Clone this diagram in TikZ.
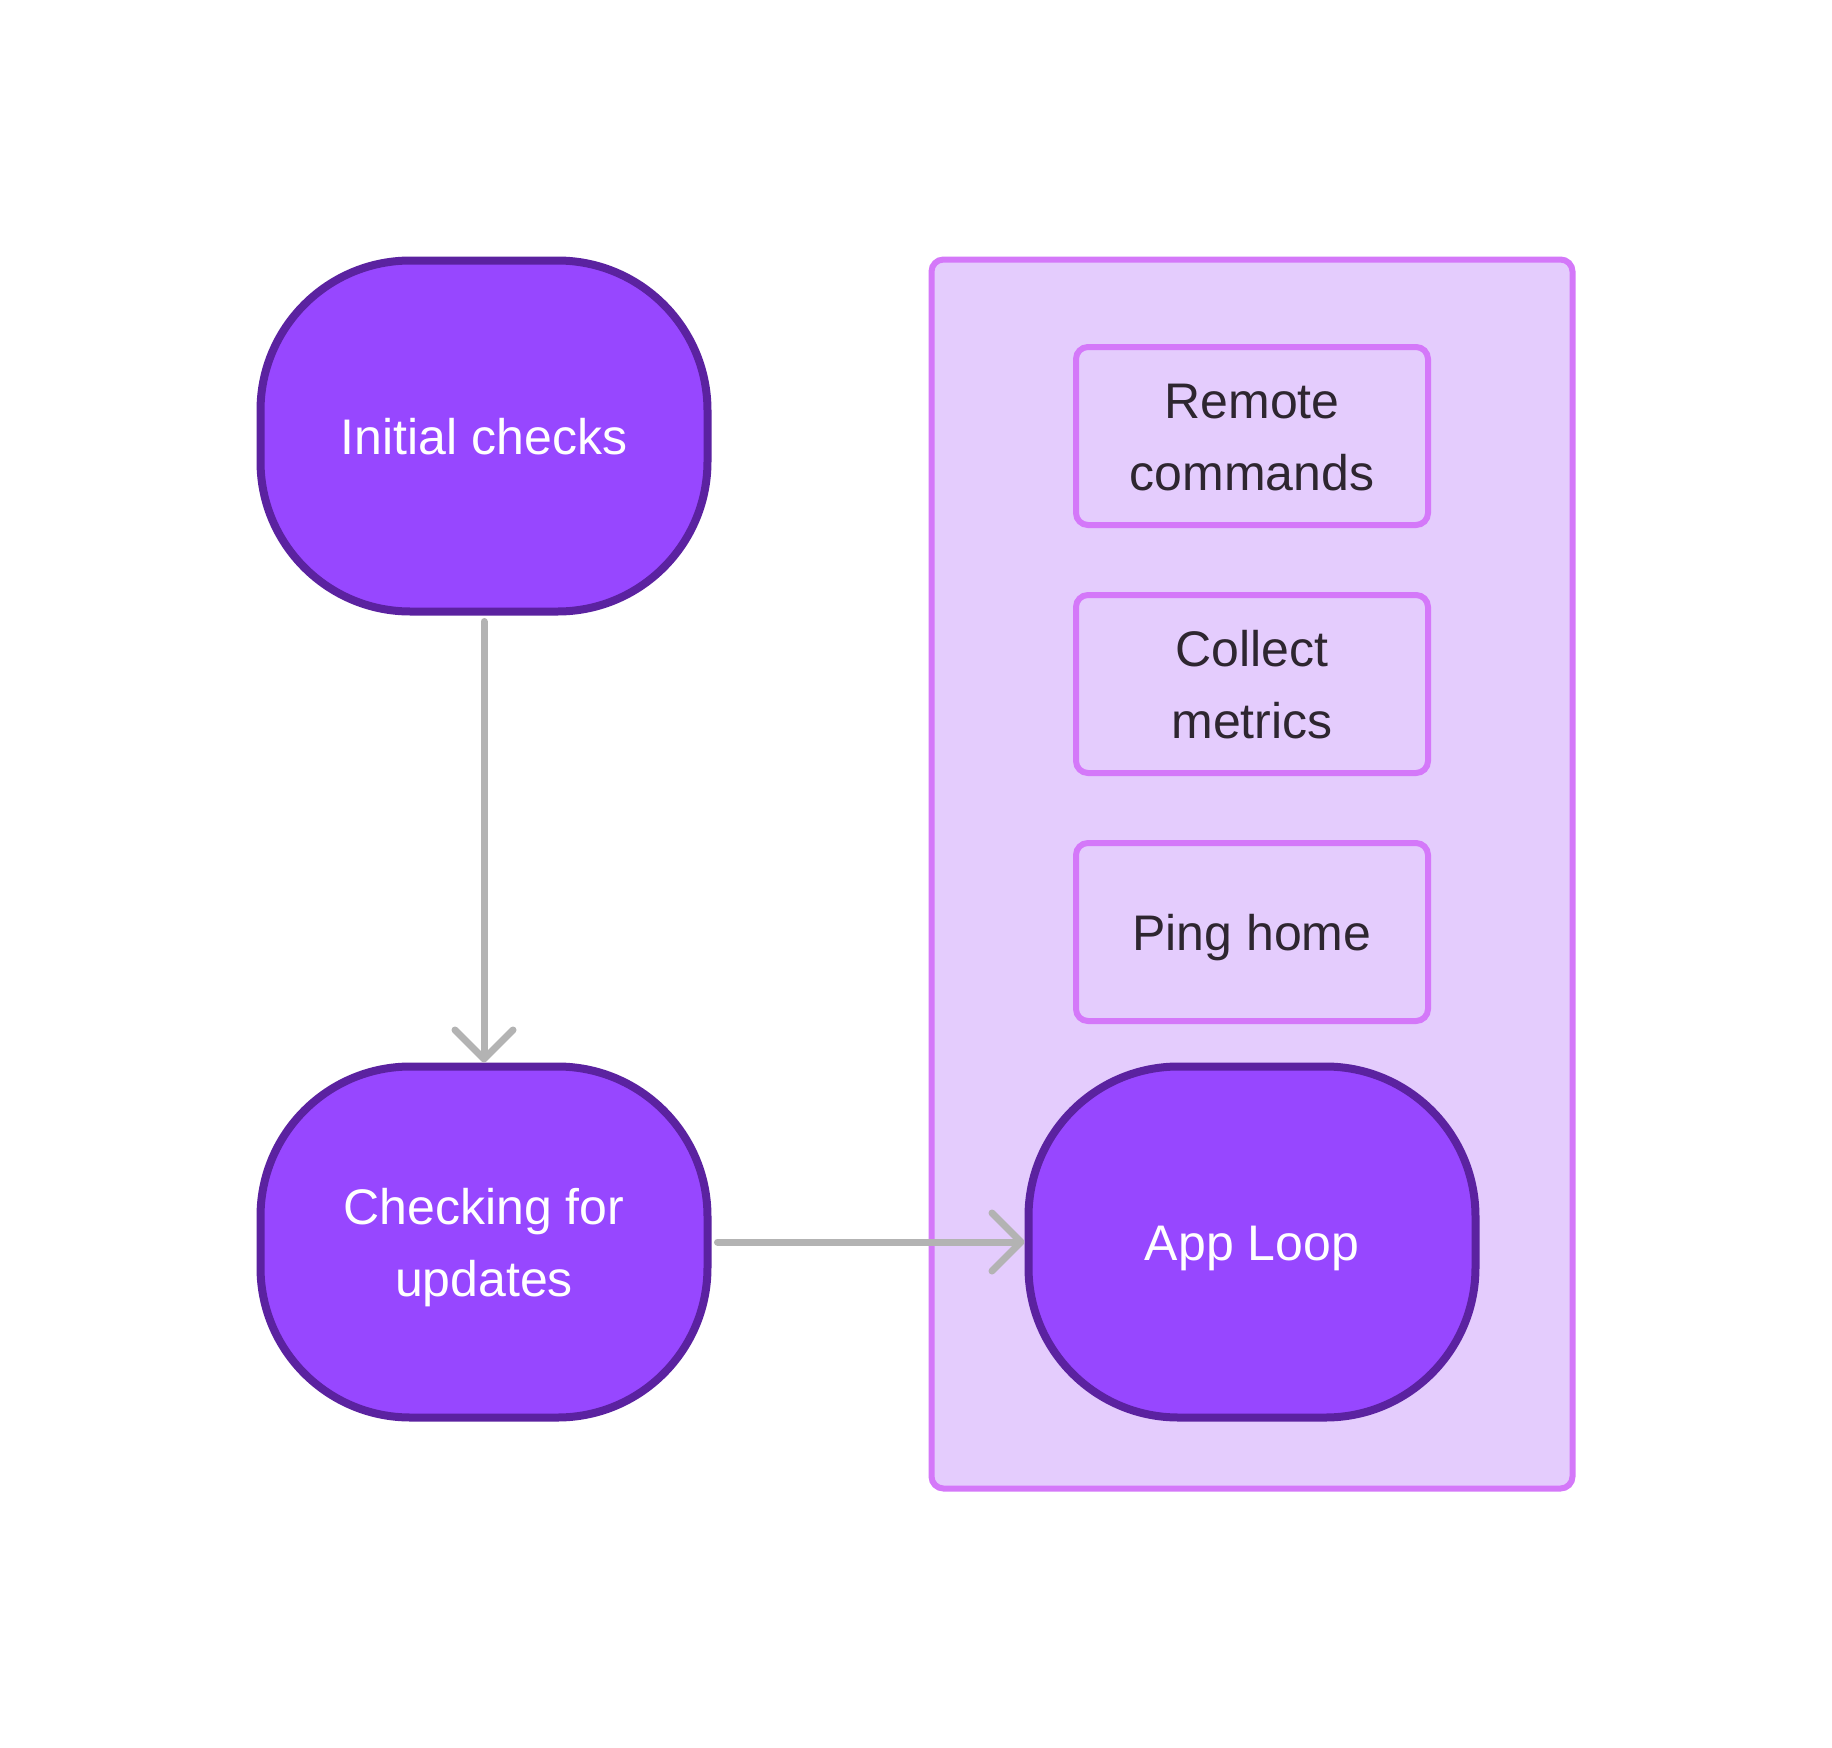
\documentclass[tikz,border=0pt]{standalone}
\usepackage{fontspec}
\setmainfont{Liberation Sans}
\usetikzlibrary{arrows.meta}
\definecolor{nodefill}{HTML}{9747FF}
\definecolor{nodeedge}{HTML}{5B22A0}
\definecolor{grpfill}{HTML}{E4CCFD}
\definecolor{grpedge}{HTML}{D478F9}
\definecolor{darktext}{HTML}{2E2630}
\definecolor{arrowgray}{HTML}{B3B3B3}
\tikzset{
  x=1pt, y=-1pt,
  txt/.style={font=\fontsize{50}{72}\selectfont, align=center, inner sep=0pt},
  oneline/.style={text height=48pt, text depth=12pt},
  twoline/.style={text height=120pt, text depth=12pt},
  pill/.style={txt, draw=nodeedge, fill=nodefill, text=white, line width=8pt,
    rounded corners=150pt, minimum width=447pt, minimum height=351pt},
  taskbox/.style={txt, draw=grpedge, fill=grpfill, text=darktext, line width=6pt,
    rounded corners=12pt, minimum width=352pt, minimum height=178pt},
  group/.style={draw=grpedge, fill=grpfill, line width=6pt, rounded corners=12pt,
    minimum width=641pt, minimum height=1229pt, inner sep=0pt},
  conn/.style={draw=arrowgray, line width=7pt, line cap=round,
    -{Straight Barb[round, length=29pt, width=58pt, line width=7pt]}},
}
\begin{document}
\begin{tikzpicture}
\useasboundingbox[fill=white] (0,0) rectangle (1832,1748);
\node[group] (grp) at (1252,874) {};
\node[pill, oneline] (init) at (484,436) {Initial checks};
\node[pill, twoline] (check) at (484,1242) {Checking for\\updates};
\node[taskbox, twoline] (remote) at (1252,436) {Remote\\commands};
\node[taskbox, twoline] (metrics) at (1252,684) {Collect\\metrics};
\node[taskbox, oneline] (ping) at (1252,932) {Ping home};
\node[pill, oneline] (loop) at (1252,1242) {App Loop};
\draw[conn, shorten <=6pt, shorten >=0pt] (init) -- (check);
\draw[conn, shorten <=6pt, shorten >=0pt] (check) -- (loop);
\end{tikzpicture}
\end{document}
